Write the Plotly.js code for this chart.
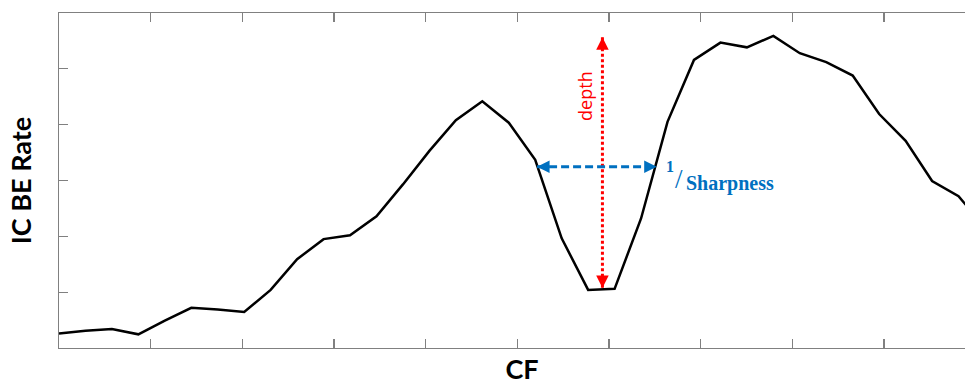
<!DOCTYPE html>
<html>
<head>
<meta charset="utf-8">
<script src="https://cdn.plot.ly/plotly-3.0.1.min.js"></script>
<style>
html, body { margin:0; padding:0; overflow:hidden; background:#fff; width:965px; height:385px; }
#chart { width:985px; height:385px; }
</style>
</head>
<body>
<div id="chart"></div>
<script>
// CF sample index (evenly spaced frequency channels)
const cf = [0,1,2,3,4,5,6,7,8,9,10,11,12,13,14,15,16,17,18,19,20,21,22,23,24,25,26,27,28,29,30,31,32,33,34,35];
// IC BE rate (arbitrary units, y axis 0..6)
const rate = [0.26,0.31,0.34,0.245,0.49,0.72,0.69,0.645,1.04,1.59,1.95,2.02,2.36,2.93,3.53,4.08,4.42,4.035,3.37,1.965,1.04,1.06,2.32,4.05,5.16,5.47,5.385,5.59,5.28,5.12,4.88,4.19,3.71,2.99,2.72,2.15];

// "depth" marker (vertical, red dotted)
const depthX = [20.54, 20.54];
const depthY = [5.565, 1.075];
// "1/Sharpness" marker (horizontal, blue dashed)
const sharpX = [18.07, 22.59];
const sharpY = [3.247, 3.247];

const RED = '#ff0000';
const BLUE = '#0070c0';

const traces = [
  {x: cf, y: rate, type:'scatter', mode:'lines',
   line:{color:'#000000', width:2.5}, hoverinfo:'skip', showlegend:false},
  {x: depthX, y: depthY, type:'scatter', mode:'lines',
   line:{color:RED, width:3, dash:'3px,2.5px'}, hoverinfo:'skip', showlegend:false},
  {x: sharpX, y: sharpY, type:'scatter', mode:'lines',
   line:{color:BLUE, width:3, dash:'8px,4px'}, hoverinfo:'skip', showlegend:false}
];

function head(x, y, ax, ay, color){
  return {x:x, y:y, xref:'x', yref:'y', text:'', showarrow:true,
    arrowhead:2, arrowsize:1, arrowwidth:2.5, arrowcolor:color,
    ax:ax, ay:ay, standoff:0};
}

const annotations = [
  head(depthX[0], depthY[0], 0, 10, RED),
  head(depthX[1], depthY[1], 0, -10, RED),
  head(sharpX[0], sharpY[0], 10, 0, BLUE),
  head(sharpX[1], sharpY[1], -10, 0, BLUE),
  {x:19.87, y:4.51, xref:'x', yref:'y', text:'depth', textangle:-90, showarrow:false,
   font:{family:'Open Sans, DejaVu Sans, sans-serif', size:18, color:RED}},
  {x:23.11, y:3.25, xref:'x', yref:'y', text:'<b>1</b>', showarrow:false,
   font:{family:'Liberation Serif, serif', size:16, color:BLUE}},
  {x:23.42, y:3.03, xref:'x', yref:'y', text:'/', showarrow:false,
   font:{family:'Liberation Serif, serif', size:27, color:BLUE}},
  {x:23.62, y:2.955, xref:'x', yref:'y', xanchor:'left', text:'<b>Sharpness</b>', showarrow:false,
   font:{family:'Liberation Serif, serif', size:20, color:BLUE}}
];

const axisCommon = {
  showgrid:false, zeroline:false, showline:true, linecolor:'#808080', linewidth:1.3,
  ticks:'inside', ticklen:9, tickwidth:1.3, tickcolor:'#808080', showticklabels:false
};

const layout = {
  width:985, height:385,
  margin:{l:59, r:0, t:13, b:37},
  paper_bgcolor:'#ffffff', plot_bgcolor:'#ffffff',
  showlegend:false,
  xaxis: Object.assign({}, axisCommon, {
    range:[0, 35], tick0:0, dtick:3.4644, mirror:'ticks',
    title:{text:'<b>CF</b>', standoff:13,
      font:{family:'Lato, Open Sans, sans-serif', size:27, color:'#000'}}
  }),
  yaxis: Object.assign({}, axisCommon, {
    range:[0, 6], tick0:0, dtick:1, mirror:false,
    title:{text:'<b>IC BE Rate</b>', standoff:18,
      font:{family:'Lato, Open Sans, sans-serif', size:27, color:'#000'}}
  }),
  annotations: annotations
};

Plotly.newPlot('chart', traces, layout, {displayModeBar:false, staticPlot:true});
</script>
</body>
</html>
